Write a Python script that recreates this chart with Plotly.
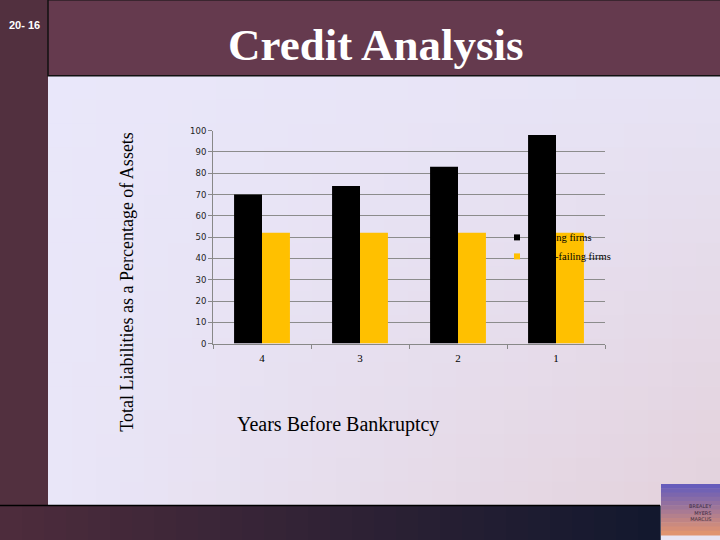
import plotly.graph_objects as go

# ---- data ----
years = ["4", "3", "2", "1"]
failing = [70, 74, 83, 98]
non_failing = [52, 52, 52, 52]
series_names = ["Failing firms", "Non-failing firms"]
series_colors = ["#000000", "#FFC000"]
y_ticks = [0, 10, 20, 30, 40, 50, 60, 70, 80, 90, 100]

W, H = 720, 540

def lerp(c1, c2, t):
    return tuple(c1[i] + (c2[i] - c1[i]) * t for i in range(3))

def rgb(c):
    return "rgb(%d,%d,%d)" % tuple(int(round(v)) for v in c)

shapes = []

# content background gradient (bilinear)
TL = (233, 231, 250)
TR = (231, 227, 245)
BL = (233, 230, 248)
BR = (227, 209, 219)
x0, x1, y0, y1 = 48, 720, 72, 510
nx, ny = 28, 18
for i in range(nx):
    for j in range(ny):
        tx = (i + 0.5) / nx
        ty = (j + 0.5) / ny
        top = lerp(TL, TR, tx)
        bot = lerp(BL, BR, tx)
        c = lerp(top, bot, ty)
        xa = x0 + (x1 - x0) * i / nx
        xb = x0 + (x1 - x0) * (i + 1) / nx
        ya = y0 + (y1 - y0) * j / ny
        yb = y0 + (y1 - y0) * (j + 1) / ny
        shapes.append(dict(type="rect", xref="paper", yref="paper",
                           x0=xa / W, x1=xb / W + 0.001, y0=1 - yb / H - 0.001, y1=1 - ya / H,
                           fillcolor=rgb(c), line=dict(width=0), layer="below"))

# left strip
shapes.append(dict(type="rect", xref="paper", yref="paper", x0=-0.01, x1=48 / W, y0=1 - 510 / H, y1=1.01,
                   fillcolor="#52303F", line=dict(width=0), layer="below"))
# header
shapes.append(dict(type="rect", xref="paper", yref="paper", x0=48 / W, x1=1.01, y0=1 - 72 / H, y1=1.01,
                   fillcolor="#653A4E", line=dict(color="#111111", width=1.5), layer="below"))
# bottom bar gradient
BA = (78, 44, 60)
BB = (18, 24, 46)
nb = 30
for i in range(nb):
    t = (i + 0.5) / nb
    c = lerp(BA, BB, t)
    shapes.append(dict(type="rect", xref="paper", yref="paper",
                       x0=660 * i / nb / W - (0.01 if i == 0 else 0), x1=660 * (i + 1) / nb / W + 0.001,
                       y0=-0.01, y1=1 - 510 / H,
                       fillcolor=rgb(c), line=dict(width=0), layer="below"))
shapes.append(dict(type="line", xref="paper", yref="paper", x0=0, x1=660 / W,
                   y0=1 - 510 / H, y1=1 - 510 / H, line=dict(color="#000000", width=1.5), layer="below"))
# logo approximation
LA = (96, 90, 190)
LB = (230, 150, 110)
nl = 12
for j in range(nl):
    t = (j + 0.5) / nl
    c = lerp(LA, LB, t)
    shapes.append(dict(type="rect", xref="paper", yref="paper",
                       x0=661 / W, x1=1.01,
                       y0=1 - (488 + 52 * (j + 1) / nl) / H - 0.001, y1=1 - (488 + 52 * j / nl) / H,
                       fillcolor=rgb(c), line=dict(width=0), layer="below"))

fig = go.Figure()
fig.add_trace(go.Bar(x=years, y=failing, name=series_names[0], legendgroup="f", showlegend=False,
                     marker=dict(color=series_colors[0], line=dict(width=0))))
fig.add_trace(go.Bar(x=years, y=non_failing, name=series_names[1], legendgroup="n", showlegend=False,
                     marker=dict(color=series_colors[1], line=dict(width=0))))
# small square legend keys, as in the original slide
for name, col, grp in zip(series_names, series_colors, ["f", "n"]):
    fig.add_trace(go.Scatter(x=[None], y=[None], mode="markers", name=name, legendgroup=grp,
                             marker=dict(symbol="square", size=6, color=col)))

annotations = [
    dict(text="<b>Credit Analysis</b>", x=375 / W, y=1 - 41 / H, xref="paper", yref="paper",
         showarrow=False, font=dict(family="Liberation Serif", size=45, color="#FFFFFF"),
         xanchor="center", yanchor="middle"),
    dict(text="<b>20- 16</b>", x=7 / W, y=1 - 20 / H, xref="paper", yref="paper",
         showarrow=False, font=dict(family="Liberation Sans Narrow, Liberation Sans", size=11, color="#FFFFFF"),
         xanchor="left", yanchor="middle"),
    dict(text="Total Liabilities as a Percentage of Assets", x=127 / W, y=1 - 282 / H, xref="paper", yref="paper",
         showarrow=False, textangle=-90, font=dict(family="Liberation Serif", size=18, color="#000000"),
         xanchor="center", yanchor="middle"),
    dict(text="Years Before Bankruptcy", x=235 / W, y=1 - 427 / H, xref="paper", yref="paper",
         showarrow=False, font=dict(family="Liberation Serif", size=20, color="#000000"),
         xanchor="left", yanchor="middle"),
    dict(text="BREALEY<br>MYERS<br>MARCUS", x=714 / W, y=1 - 517 / H, xref="paper", yref="paper",
         showarrow=False, align="right", font=dict(family="DejaVu Sans", size=5, color="#3a2a40"),
         xanchor="right", yanchor="middle"),
]

fig.update_layout(
    width=W, height=H,
    margin=dict(l=0, r=0, t=0, b=0),
    paper_bgcolor="#E8E4F4",
    plot_bgcolor="rgba(0,0,0,0)",
    barmode="group",
    bargap=0.43,
    bargroupgap=0,
    shapes=shapes,
    annotations=annotations,
    showlegend=True,
    legend=dict(x=497 / W, y=1 - 222 / H, xanchor="left", yanchor="top",
                bgcolor="rgba(0,0,0,0)", font=dict(family="Liberation Serif", size=10.5, color="#000000"),
                itemwidth=30, tracegroupgap=0),
    xaxis=dict(domain=[213 / W, 605 / W], type="category", showgrid=False,
               showline=True, linecolor="#888888", linewidth=1,
               ticks="outside", tickson="boundaries", ticklen=4, tickcolor="#888888",
               ticklabelstandoff=4,
               tickfont=dict(family="Liberation Serif", size=11, color="#000000")),
    yaxis=dict(domain=[1 - 345 / H, 1 - 128 / H], range=[0, 100], tickvals=y_ticks,
               showgrid=True, gridcolor="#8C8C8C", gridwidth=1, zeroline=False,
               showline=True, linecolor="#888888", linewidth=1,
               ticks="outside", ticklen=4, tickcolor="#888888",
               tickfont=dict(family="DejaVu Sans", size=8.5, color="#222222")),
)

fig.write_html("out.html", config={"displayModeBar": False},
               post_script="document.body.style.margin='0';document.body.style.overflow='hidden';")
